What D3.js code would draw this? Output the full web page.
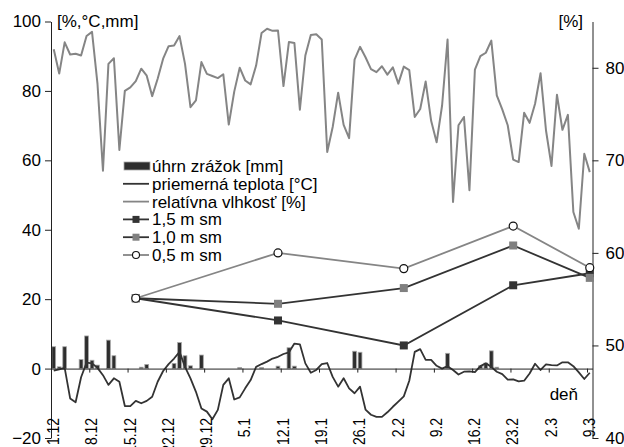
<!DOCTYPE html>
<html>
<head>
<meta charset="utf-8">
<script src="https://cdn.jsdelivr.net/npm/d3@7"></script>
<style>
  html, body { margin: 0; padding: 0; background: #fff; }
  svg { display: block; }
  text { font-family: "Liberation Sans", Arial, sans-serif; fill: #000; }
</style>
</head>
<body>
<svg id="chart" width="624" height="447"></svg>
<script>
// Daily series, 1.12 – 9.3 (one value per day)
const humidity = [
  92, 85, 94, 90.5, 90.7, 90.2, 95.8, 97, 82, 57,
  87.8, 89.4, 63, 80, 81, 82.8, 86.4, 84.4, 78.5, 83.5,
  89.3, 92.9, 93.1, 95.8, 87.8, 75.3, 77.3, 88.3, 84.9, 84.3,
  83.7, 84.8, 70.3, 79.8, 86.7, 83, 81.9, 87.3, 96.7, 97.9,
  97.3, 97.4, 81.4, 94.1, 93.8, 74.6, 90.2, 96.1, 96.3, 94.8,
  62.4, 69.6, 79.5, 70.2, 66.4, 89, 92.7, 89.7, 86.3, 85.4,
  87.1, 84.7, 86.8, 82.1, 87, 86, 72.5, 74.8, 82.7, 71.4,
  65.2, 75.8, 94.8, 48, 70.1, 72.5, 51.4, 86.1, 90, 91,
  94.5, 78.7, 74.7, 70.1, 60.2, 59.5, 73.7, 70.8, 76.3, 85.1,
  68.6, 58.4, 78.9, 68.8, 73.1, 45.1, 40.3, 61.9, 56.6
];
const temperature = [
  -0.6, -0.2, 0.2, -8.6, -9.7, -2.5, 1.7, 1.5, 0.2, -1.9,
  -4.7, -2.8, -3.8, -10.8, -10.8, -9.3, -10.0, -9.3, -8.1, -3.8,
  -0.7, 1.3, 2.9, 4.8, 0.5, -2.8, -6.7, -11.5, -12.4, -14.6,
  -11.9, -4.7, -2.8, -8.9, -8.3, -5.7, -3.3, 0.5, 1.3, 2.0,
  2.9, 3.4, 4.2, 4.7, 7.2, 7.0, 1.5, -1.2, -0.4, 1.3,
  1.6, -2.4, -5.2, -2.8, -5.7, -7.1, -5.2, -11.8, -13.3, -13.9,
  -13.9, -12.6, -11.0, -9.5, -8.0, -3.5, 4.8, 5.6, 2.5, 2.5,
  0.8, 0.0, 0.7, -0.4, -1.7, -0.9, -0.8, -1.0, 0.7, 1.5,
  0.5, -0.9, -1.6, -3.2, -3.1, -3.7, -3.5, -1.4, 1.4, -0.4,
  1.2, 1.0, 0.9, 1.8, 1.8, 0.7, -1.1, -3.0, -1.2
];
const precipitation = [
  6.3, 0.5, 6.3, 0, 0, 2.6, 9.4, 2.4, 1.0, 0,
  8.2, 3.7, 0, 0, 0, 0, 0.4, 1.2, 0, 0,
  0, 0, 1.5, 7.5, 3.7, 0.8, 0, 3.9, 0, 0,
  0, 0, 0, 0, 0.3, 0, 0, 0, 0.3, 0,
  0, 0.7, 0, 6.0, 0.7, 0, 0, 0, 0, 0,
  0, 0, 0, 0, 0, 5.0, 4.7, 0, 0, 0,
  0, 0, 0, 0, 0, 0, 0, 0, 0, 0,
  0, 0, 4.4, 0, 0, 0, 0, 0, 0.8, 1.6,
  5.1, 0.4, 0, 0, 0, 0, 0, 0, 0, 0,
  0, 0, 0, 0, 0, 0, 0, 0, 0
];

// Soil measurements (right axis)
const soilDates = ["16.12", "11.1", "3.2", "23.2", "9.3"];
const soil15 = [55.1, 52.7, 50.0, 56.5, 57.8];
const soil10 = [55.1, 54.5, 56.2, 60.8, 57.3];
const soil05 = [55.1, 60.0, 58.3, 62.9, 58.4];

const tickLabels = ["1.12", "8.12", "15.12", "22.12", "29.12", "5.1", "12.1",
                    "19.1", "26.1", "2.2", "9.2", "16.2", "23.2", "2.3", "9.3"];
const leftTicks = [-20, 0, 20, 40, 60, 80, 100];
const rightTicks = [40, 50, 60, 70, 80];

const legendItems = [
  { label: "úhrn zrážok [mm]", type: "bar" },
  { label: "priemerná teplota [°C]", type: "line", stroke: "#333" },
  { label: "relatívna vlhkosť [%]", type: "line", stroke: "#858585" },
  { label: "1,5 m sm", type: "square", stroke: "#333", fill: "#333" },
  { label: "1,0 m sm", type: "square", stroke: "#333", fill: "#808080" },
  { label: "0,5 m sm", type: "circle", stroke: "#858585", fill: "#fff" }
];

// ---- layout ----
const svg = d3.select("#chart");
const FONT = 17;
const X0 = 51, X1 = 592.5, Y0 = 438, Y1 = 21.5;
const nDays = humidity.length;

const x = d3.scaleLinear().domain([0, nDays]).range([X0, X1]);
const yL = d3.scaleLinear().domain([-20, 100]).range([Y0, Y1]);
const yR = d3.scaleLinear().domain([40, 85]).range([Y0, Y1]);
const cx = i => x(i + 0.5);

const parseDay = d3.timeParse("%d.%m.%Y");
const start = parseDay("1.12.2010");
const dayIndex = s => {
  const [d, m] = s.split(".").map(Number);
  return d3.timeDay.count(start, parseDay(`${d}.${m}.${m >= 12 ? 2010 : 2011}`));
};

// precipitation bars
const barW = 3.8;
svg.append("g").selectAll("rect")
  .data(precipitation.map((v, i) => ({ v, i })).filter(d => d.v > 0))
  .join("rect")
  .attr("x", d => cx(d.i) - barW / 2)
  .attr("width", barW)
  .attr("y", d => yL(d.v))
  .attr("height", d => yL(0) - yL(d.v))
  .attr("fill", "#2e2e2e")
  .attr("stroke", "#a8a8a8")
  .attr("stroke-width", 0.8);

// humidity line
svg.append("path")
  .datum(humidity)
  .attr("fill", "none")
  .attr("stroke", "#858585")
  .attr("stroke-width", 2)
  .attr("stroke-linejoin", "round")
  .attr("d", d3.line().x((d, i) => cx(i)).y(d => yL(d)));

// temperature line
svg.append("path")
  .datum(temperature)
  .attr("fill", "none")
  .attr("stroke", "#333")
  .attr("stroke-width", 1.8)
  .attr("stroke-linejoin", "round")
  .attr("d", d3.line().x((d, i) => cx(i)).y(d => yL(d)));

// axes
const axisStyle = g => {
  g.selectAll("path, line").attr("stroke", "#222").attr("stroke-width", 1);
  g.selectAll("text").style("font-size", FONT + "px").attr("fill", "#000");
  g.attr("font-family", null);
};

svg.append("g")
  .attr("transform", `translate(${X0},0)`)
  .call(d3.axisLeft(yL).tickValues(leftTicks).tickSize(6).tickSizeOuter(0).tickPadding(4))
  .call(axisStyle);

svg.append("g")
  .attr("transform", `translate(${X1},0)`)
  .call(d3.axisRight(yR).tickValues(rightTicks).tickSize(6).tickSizeOuter(0).tickPadding(7))
  .call(axisStyle);

const weekTicks = tickLabels.map((_, k) => k * 7);
svg.append("g")
  .attr("transform", `translate(0,${yL(0)})`)
  .call(d3.axisBottom(x).tickValues(weekTicks).tickSize(4).tickSizeOuter(0).tickFormat(""))
  .call(axisStyle);

// vertical date labels, slightly condensed along the reading direction
svg.append("g").selectAll("text")
  .data(tickLabels)
  .join("text")
  .attr("transform", (d, k) => `translate(${x(weekTicks[k]) + 2},418) rotate(-90) scale(0.82,1)`)
  .attr("text-anchor", "end")
  .attr("dy", "0.35em")
  .style("font-size", FONT + "px")
  .text(d => d);

// axis titles
svg.append("text").attr("x", 57).attr("y", 27).style("font-size", FONT + "px").text("[%,°C,mm]");
svg.append("text").attr("x", 583).attr("y", 27).attr("text-anchor", "end").style("font-size", FONT + "px").text("[%]");
svg.append("text").attr("x", 578).attr("y", 400).attr("text-anchor", "end").style("font-size", FONT + "px").text("deň");

// soil series
const soilIdx = soilDates.map(dayIndex);
const soilLine = d3.line().x((d, k) => cx(soilIdx[k])).y(d => yR(d));
const soilSeries = [
  { values: soil15, stroke: "#333", marker: "square", fill: "#333" },
  { values: soil10, stroke: "#333", marker: "square", fill: "#808080" },
  { values: soil05, stroke: "#858585", marker: "circle", fill: "#fff" }
];
soilSeries.forEach(s => {
  svg.append("path").datum(s.values)
    .attr("fill", "none").attr("stroke", s.stroke).attr("stroke-width", 1.8)
    .attr("d", soilLine);
});
soilSeries.forEach(s => {
  const g = svg.append("g");
  if (s.marker === "square") {
    g.selectAll("rect").data(s.values).join("rect")
      .attr("x", (d, k) => cx(soilIdx[k]) - 4)
      .attr("y", d => yR(d) - 4)
      .attr("width", 8).attr("height", 8)
      .attr("fill", s.fill);
  } else {
    g.selectAll("circle").data(s.values).join("circle")
      .attr("cx", (d, k) => cx(soilIdx[k]))
      .attr("cy", d => yR(d))
      .attr("r", 4)
      .attr("fill", s.fill).attr("stroke", "#111").attr("stroke-width", 1.2);
  }
});

// legend
const lg = svg.append("g");
const LX = 123, LW = 26, LY = 166, LS = 17.8;
legendItems.forEach((it, k) => {
  const yy = LY + k * LS;
  if (it.type === "bar") {
    lg.append("rect").attr("x", LX + 1).attr("y", yy - 4).attr("width", LW).attr("height", 8)
      .attr("fill", "#2e2e2e").attr("stroke", "#a8a8a8").attr("stroke-width", 0.8);
  } else {
    lg.append("line").attr("x1", LX).attr("x2", LX + LW).attr("y1", yy).attr("y2", yy)
      .attr("stroke", it.stroke).attr("stroke-width", 1.8);
    if (it.type === "square") {
      lg.append("rect").attr("x", LX + LW / 2 - 3.5).attr("y", yy - 3.5)
        .attr("width", 7).attr("height", 7).attr("fill", it.fill);
    } else if (it.type === "circle") {
      lg.append("circle").attr("cx", LX + LW / 2).attr("cy", yy).attr("r", 3.5)
        .attr("fill", it.fill).attr("stroke", "#111").attr("stroke-width", 1.1);
    }
  }
  lg.append("text").attr("x", LX + 29).attr("y", yy).attr("dy", "0.35em")
    .style("font-size", FONT + "px").text(it.label);
});
</script>
</body>
</html>
